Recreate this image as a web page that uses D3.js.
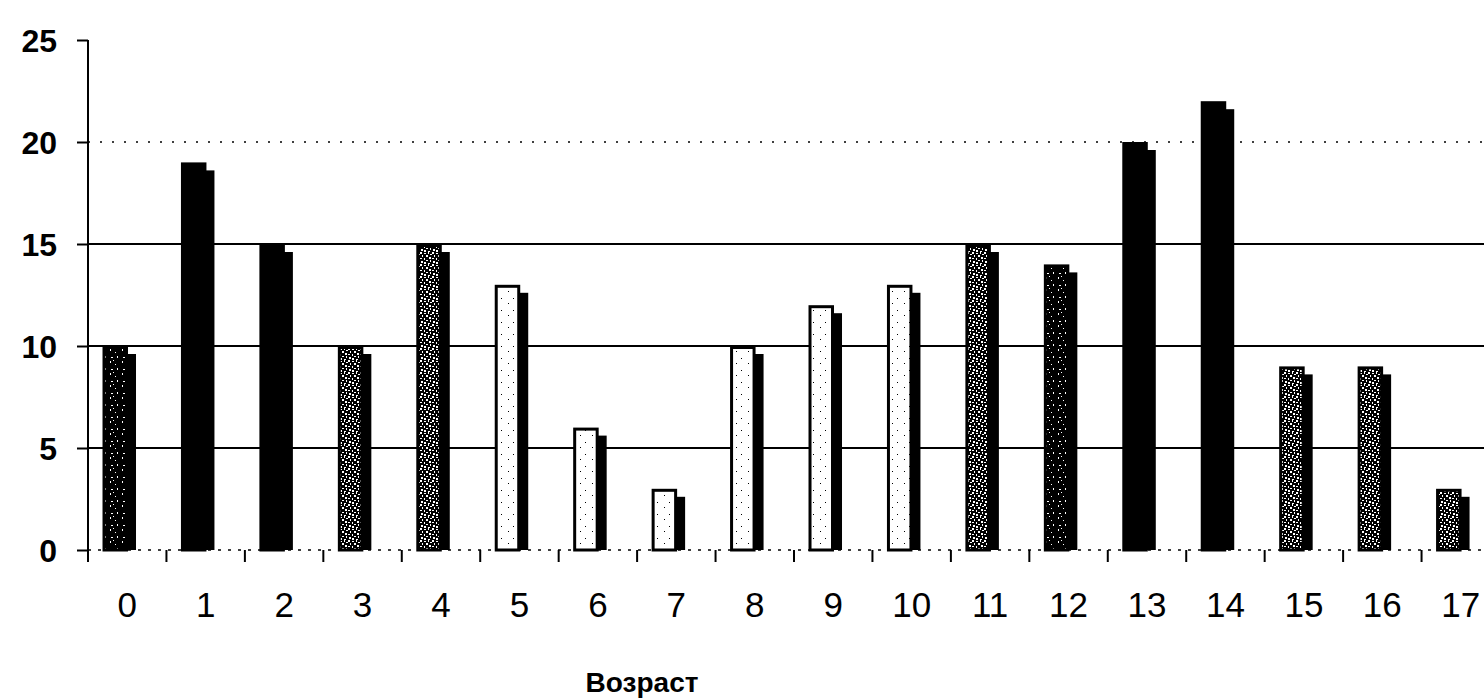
<!DOCTYPE html>
<html>
<head>
<meta charset="utf-8">
<script src="https://cdn.jsdelivr.net/npm/d3@7"></script>
<style>
  html, body { margin: 0; padding: 0; background: #fff; }
  svg { display: block; }
  text { font-family: "Liberation Sans", Arial, sans-serif; fill: #000; }
</style>
</head>
<body>
<svg id="chart" width="1484" height="700"></svg>
<script>
// Ages (categories) and counts per age
const ages = ["0","1","2","3","4","5","6","7","8","9","10","11","12","13","14","15","16","17"];
const counts = [10, 19, 15, 10, 15, 13, 6, 3, 10, 12, 13, 15, 14, 20, 22, 9, 9, 3];
// Fill kind per bar: dark stipple, solid black, medium stipple, light
const fills = ["dark","solid","solid","medium","medium","light","light","light","light","light","light","medium","dark","solid","solid","medium","medium","medium"];
const yTicks = [0, 5, 10, 15, 20, 25];
const xTitle = "Возраст";

const svg = d3.select("#chart");
const plotLeft = 88, plotRight = 1500, plotTop = 40, base = 550;

const x = d3.scaleBand().domain(ages).range([plotLeft, plotRight]).padding(0);
const y = d3.scaleLinear().domain([0, 25]).range([base, plotTop]);

// stipple patterns
const defs = svg.append("defs");
function pattern(id, bg, fg, spots) {
  const p = defs.append("pattern").attr("id", id)
    .attr("patternUnits", "userSpaceOnUse").attr("width", 12).attr("height", 12);
  p.append("rect").attr("width", 12).attr("height", 12).attr("fill", bg);
  spots.forEach(s => p.append("rect").attr("x", s[0]).attr("y", s[1])
    .attr("width", s[2]).attr("height", s[3]).attr("fill", fg));
}
pattern("dark", "#000", "#fff", [[2,1,1,2],[7,4,1,1],[9,8,1,2],[3,9,2,1],[5,0,1,1]]);
pattern("medium", "#000", "#fff", [[0,0,2,2],[4,1,2,1],[8,0,1,2],[10,2,2,1],[2,3,1,2],[6,3,2,2],[0,6,2,1],[4,6,1,2],[9,5,2,2],[1,9,2,2],[6,8,2,1],[10,8,1,2],[4,10,2,2],[8,11,2,1]]);
pattern("light", "#fff", "#000", [[4,3,1,1],[9,10,1,1]]);

const fillOf = k => k === "solid" ? "#000" : `url(#${k})`;

// horizontal grid lines
const grid = svg.append("g");
[5, 10, 15].forEach(v => grid.append("line")
  .attr("x1", plotLeft).attr("x2", 1484).attr("y1", y(v)).attr("y2", y(v))
  .attr("stroke", "#000").attr("stroke-width", 2));
grid.append("line")
  .attr("x1", plotLeft).attr("x2", 1484).attr("y1", y(20)).attr("y2", y(20))
  .attr("stroke", "#000").attr("stroke-width", 1.5).attr("stroke-dasharray", "2 10");

// baseline (broken)
svg.append("line").attr("x1", plotLeft).attr("x2", 1484).attr("y1", base).attr("y2", base)
  .attr("stroke", "#000").attr("stroke-width", 1.5).attr("stroke-dasharray", "3 7");

// bars with a depth shadow
const bw = x.bandwidth();
const barW = bw * 0.325, barOff = bw * 0.185, depth = 8;
const bars = svg.append("g").selectAll("g").data(ages).join("g");
bars.append("rect")
  .attr("x", (d) => x(d) + barOff + depth)
  .attr("y", (d, i) => y(counts[i]) + depth)
  .attr("width", barW)
  .attr("height", (d, i) => base - y(counts[i]) - depth)
  .attr("fill", "#000");
bars.append("rect")
  .attr("x", (d) => x(d) + barOff + 1.5)
  .attr("y", (d, i) => y(counts[i]) + 1.5)
  .attr("width", barW - 3)
  .attr("height", (d, i) => base - y(counts[i]) - 1.5)
  .attr("fill", (d, i) => fillOf(fills[i]))
  .attr("stroke", "#000").attr("stroke-width", 3);

// y axis
const yAxis = d3.axisLeft(y).tickValues(yTicks).tickSize(11).tickPadding(20);
const gy = svg.append("g").attr("transform", `translate(${plotLeft},0)`).call(yAxis);
gy.select(".domain").remove();
gy.append("line").attr("x1", 0).attr("x2", 0).attr("y1", plotTop).attr("y2", base + 12)
  .attr("stroke", "#000").attr("stroke-width", 2);
gy.selectAll(".tick line").attr("stroke", "#000").attr("stroke-width", 2);
gy.selectAll(".tick text").attr("font-size", 32).attr("font-weight", "bold")
  .attr("font-family", "Liberation Sans, Arial, sans-serif").attr("fill", "#000")
  .attr("dy", "0.36em");

// x axis: ticks on category boundaries, labels at centres
const edges = ages.map(a => x(a)).concat([plotRight]);
svg.append("g").selectAll("line").data(edges.slice(1)).join("line")
  .attr("x1", d => d).attr("x2", d => d).attr("y1", base).attr("y2", base + 12)
  .attr("stroke", "#000").attr("stroke-width", 2);
const xAxis = d3.axisBottom(x).tickSize(0).tickPadding(42);
const gx = svg.append("g").attr("transform", `translate(0,${base})`).call(xAxis);
gx.select(".domain").remove();
gx.selectAll(".tick text").attr("font-size", 35)
  .attr("font-family", "Liberation Sans, Arial, sans-serif").attr("fill", "#000");

svg.append("text").attr("x", 642).attr("y", 692).attr("text-anchor", "middle")
  .attr("font-size", 28).attr("font-weight", "bold").text(xTitle);
</script>
</body>
</html>
